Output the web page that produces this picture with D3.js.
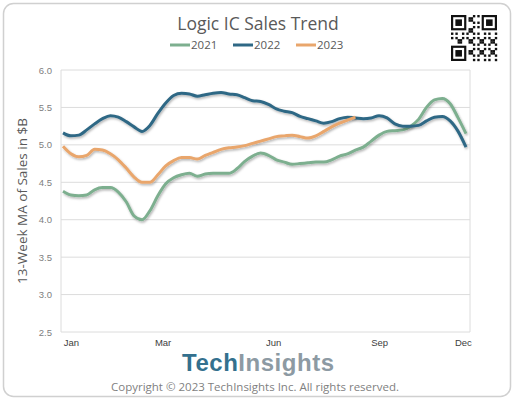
<!DOCTYPE html>
<html>
<head>
<meta charset="utf-8">
<script src="https://cdn.jsdelivr.net/npm/d3@7"></script>
<style>
  body { margin: 0; background: #fff; }
  svg { display: block; font-family: "Open Sans", "Liberation Sans", sans-serif; }
</style>
</head>
<body>
<svg id="chart" width="514" height="399"></svg>
<script>
/**
 * Data: 13-week moving average of sales, $B, one value per week.
 */
const series2021 = [4.38, 4.33, 4.32, 4.33, 4.40, 4.43, 4.43, 4.37, 4.24, 4.05,
    4.00, 4.12, 4.32, 4.48, 4.56, 4.60, 4.62, 4.58, 4.61, 4.62,
    4.62, 4.62, 4.68, 4.78, 4.85, 4.89, 4.86, 4.80, 4.77, 4.74,
    4.75, 4.76, 4.77, 4.77, 4.80, 4.85, 4.88, 4.93, 4.97, 5.05,
    5.13, 5.18, 5.19, 5.20, 5.25, 5.34, 5.50, 5.60, 5.62, 5.55,
    5.36, 5.15];
const series2022 = [5.16, 5.12, 5.13, 5.20, 5.28, 5.35, 5.39, 5.37, 5.31, 5.24,
    5.18, 5.26, 5.42, 5.56, 5.66, 5.69, 5.68, 5.65, 5.67, 5.69,
    5.70, 5.68, 5.67, 5.63, 5.59, 5.58, 5.54, 5.48, 5.45, 5.43,
    5.38, 5.35, 5.32, 5.29, 5.31, 5.35, 5.37, 5.36, 5.35, 5.36,
    5.39, 5.36, 5.28, 5.25, 5.25, 5.26, 5.32, 5.37, 5.38, 5.32,
    5.18, 4.97];
const series2023 = [4.98, 4.88, 4.84, 4.86, 4.94, 4.93, 4.88, 4.80, 4.69, 4.57,
    4.50, 4.50, 4.60, 4.72, 4.79, 4.83, 4.83, 4.81, 4.86, 4.90,
    4.94, 4.96, 4.97, 4.99, 5.02, 5.05, 5.08, 5.11, 5.12, 5.13,
    5.11, 5.09, 5.12, 5.18, 5.24, 5.29, 5.33, 5.37];

const seriesNames = ['2021', '2022', '2023'];
const seriesColors = ['#7daf8f', '#2f6885', '#e9a66c'];

const monthLabels = ['Jan', 'Mar', 'Jun', 'Sep', 'Dec'];
const monthWeeks = [2, 13.6, 27.6, 41, 51.6];
const yTicks = [2.5, 3.0, 3.5, 4.0, 4.5, 5.0, 5.5, 6.0];

/**
 * Visual configs.
 */
const margin = { top: 70, right: 44, bottom: 67, left: 61 };
const visWidth = 514, visHeight = 399,
    width = visWidth - margin.left - margin.right,
    height = visHeight - margin.top - margin.bottom;

const svg = d3.select('#chart');

// Outer frame
svg.append('rect')
    .attr('x', 3.5).attr('y', 3.5)
    .attr('width', visWidth - 7).attr('height', visHeight - 6)
    .attr('rx', 10)
    .attr('fill', '#fff')
    .attr('stroke', '#d0d0d0')
    .attr('stroke-width', 1.5);

// Drop shadow for lines
const defs = svg.append('defs');
const shadow = defs.append('filter').attr('id', 'shadow')
    .attr('x', '-5%').attr('y', '-10%').attr('width', '110%').attr('height', '130%');
shadow.append('feDropShadow')
    .attr('dx', 1).attr('dy', 1.5).attr('stdDeviation', 1)
    .attr('flood-color', '#000').attr('flood-opacity', 0.3);

/**
 * Scales.
 */
const xScale = d3.scaleLinear().domain([1, 52]).range([2, width - 4]);
const yScale = d3.scaleLinear().domain([2.5, 6.0]).range([height, 0]);

const g = svg.append('g')
    .attr('transform', 'translate(' + margin.left + ',' + margin.top + ')');

// Gridlines
g.append('g').attr('class', 'grid')
    .selectAll('line').data(yTicks).join('line')
    .attr('x1', 0).attr('x2', width)
    .attr('y1', d => yScale(d)).attr('y2', d => yScale(d))
    .attr('stroke', '#dcdcdc').attr('stroke-width', 1);

// Plot sides
g.append('line').attr('x1', 0).attr('x2', 0).attr('y1', 0).attr('y2', height)
    .attr('stroke', '#dcdcdc');
g.append('line').attr('x1', width).attr('x2', width).attr('y1', 0).attr('y2', height)
    .attr('stroke', '#dcdcdc');

// Y axis
const yAxis = d3.axisLeft(yScale).tickValues(yTicks).tickFormat(d3.format('.1f')).tickSize(0).tickPadding(9);
g.append('g').call(yAxis)
    .call(s => s.select('.domain').remove())
    .call(s => s.selectAll('text')
        .attr('fill', '#808080')
        .style('font-size', '9.5px')
        .style('font-family', '"Liberation Sans", sans-serif'));

// X axis
const xAxis = d3.axisBottom(xScale).tickValues(monthWeeks)
    .tickFormat((d, i) => monthLabels[i]).tickSize(0).tickPadding(7);
g.append('g').attr('transform', 'translate(0,' + height + ')').call(xAxis)
    .call(s => s.select('.domain').remove())
    .call(s => s.selectAll('text')
        .attr('fill', '#404040')
        .style('font-size', '9.5px')
        .style('font-family', '"Liberation Sans Narrow", "Liberation Sans", sans-serif'));

// Y axis title
svg.append('text')
    .attr('transform', 'translate(27,' + (margin.top + height / 2) + ') rotate(-90)')
    .attr('text-anchor', 'middle')
    .attr('fill', '#595959')
    .style('font-size', '13.5px')
    .text('13-Week MA of Sales in $B');

/**
 * Lines.
 */
const line = d3.line()
    .x((d, i) => xScale(i + 1))
    .y(d => yScale(d))
    .curve(d3.curveMonotoneX);

const allSeries = [series2021, series2022, series2023];
g.append('g').attr('class', 'items')
    .selectAll('path').data(allSeries).join('path')
    .attr('d', line)
    .attr('fill', 'none')
    .attr('stroke', (d, i) => seriesColors[i])
    .attr('stroke-width', 3)
    .attr('stroke-linejoin', 'round')
    .attr('filter', 'url(#shadow)');

// Title
svg.append('text')
    .attr('x', 258).attr('y', 30)
    .attr('text-anchor', 'middle')
    .attr('fill', '#595959')
    .style('font-size', '17.5px')
    .text('Logic IC Sales Trend');

// Legend
const legend = svg.append('g').attr('transform', 'translate(170,49)');
const legendItem = legend.selectAll('g').data(seriesNames).join('g')
    .attr('transform', (d, i) => 'translate(' + (i * 63) + ',0)');
legendItem.append('line')
    .attr('x1', 0).attr('x2', 20).attr('y1', -4).attr('y2', -4)
    .attr('stroke', (d, i) => seriesColors[i])
    .attr('stroke-width', 3);
legendItem.append('text')
    .attr('x', 21).attr('y', 0)
    .attr('fill', '#595959')
    .style('font-size', '11.5px')
    .text(d => d);

// QR-like badge
const qrSize = 21, qrCell = 46 / qrSize;
const qr = svg.append('g').attr('transform', 'translate(451,15)');
const qrCells = [];
for (let r = 0; r < qrSize; r++) {
    for (let c = 0; c < qrSize; c++) {
        const finder = (r < 8 && c < 8) || (r < 8 && c >= qrSize - 8) || (r >= qrSize - 8 && c < 8);
        if (finder) continue;
        if (((r * 7 + c * 13 + r * c * 3) % 5) < 2) qrCells.push([r, c]);
    }
}
qr.selectAll('rect.m').data(qrCells).join('rect').attr('class', 'm')
    .attr('x', d => d[1] * qrCell).attr('y', d => d[0] * qrCell)
    .attr('width', qrCell + 0.2).attr('height', qrCell + 0.2)
    .attr('fill', '#111');
[[0, 0], [0, qrSize - 7], [qrSize - 7, 0]].forEach(([r, c]) => {
    qr.append('rect').attr('x', c * qrCell + qrCell / 2).attr('y', r * qrCell + qrCell / 2)
        .attr('width', qrCell * 6).attr('height', qrCell * 6)
        .attr('fill', 'none').attr('stroke', '#111').attr('stroke-width', qrCell);
    qr.append('rect').attr('x', (c + 2) * qrCell).attr('y', (r + 2) * qrCell)
        .attr('width', qrCell * 3).attr('height', qrCell * 3).attr('fill', '#111');
});

// Logo (Arial-metric font keeps its box clear of the month labels)
const logo = svg.append('text')
    .attr('x', 258).attr('y', 371)
    .attr('text-anchor', 'middle')
    .attr('textLength', 152)
    .style('font-size', '24px')
    .style('font-weight', 'bold')
    .style('font-family', '"Liberation Sans", sans-serif');
logo.append('tspan').attr('fill', '#33708e').text('Tech');
logo.append('tspan').attr('fill', '#8d9aa3').text('Insights');

// Copyright
svg.append('text')
    .attr('x', 255).attr('y', 391)
    .attr('text-anchor', 'middle')
    .attr('fill', '#7f7f7f')
    .style('font-size', '11.5px')
    .text('Copyright \u00a9 2023 TechInsights Inc.  All rights reserved.');
</script>
</body>
</html>
